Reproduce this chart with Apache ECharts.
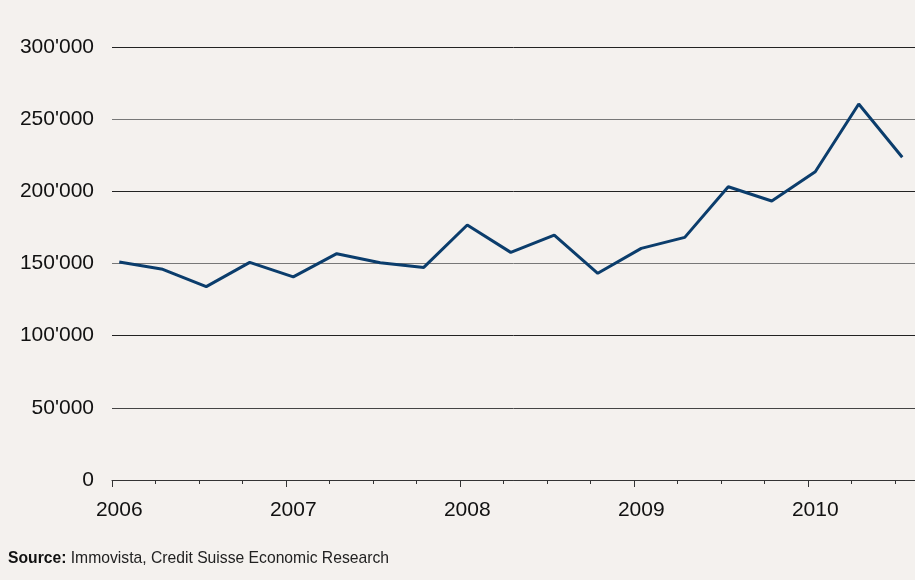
<!DOCTYPE html>
<html>
<head>
<meta charset="utf-8">
<script src="https://cdn.jsdelivr.net/npm/echarts@6/dist/echarts.min.js"></script>
<style>
html,body{margin:0;padding:0;background:#f4f1ee;}
#chart{width:915px;height:580px;}
</style>
</head>
<body>
<div id="chart"></div>
<script>
// Data
var quarters = ['2006 Q1','2006 Q2','2006 Q3','2006 Q4','2007 Q1','2007 Q2','2007 Q3','2007 Q4',
  '2008 Q1','2008 Q2','2008 Q3','2008 Q4','2009 Q1','2009 Q2','2009 Q3','2009 Q4',
  '2010 Q1','2010 Q2','2010 Q3'];
var values = [151000, 146000, 134000, 150800, 140700, 156800, 150500, 147300,
  176700, 157700, 169700, 143200, 160500, 168100, 203200, 193300,
  213600, 260500, 223600];
var yearTicks = [2006, 2007, 2008, 2009, 2010];
var yTicks = [0, 50000, 100000, 150000, 200000, 250000, 300000];
var sourceLabel = 'Source:';
var sourceText = 'Immovista, Credit Suisse Economic Research';

// quarter start as decimal year
function qStart(s) {
  var p = s.split(' Q');
  return +p[0] + (+p[1] - 1) / 4;
}
// plotted in the middle of the quarter's first month
var MID_FIRST_MONTH = 1 / 24;
var seriesData = quarters.map(function (q, i) { return [qStart(q) + MID_FIRST_MONTH, values[i]]; });
var quarterTicks = quarters.map(qStart);
var labelPositions = yearTicks.map(function (y) { return y + MID_FIRST_MONTH; });

function fmtThousands(v) {
  var s = String(Math.round(v));
  return s.replace(/\B(?=(\d{3})+(?!\d))/g, "'");
}

var chart = echarts.init(document.getElementById('chart'), null, {renderer: 'canvas'});
var font = '"Liberation Sans", Arial, Helvetica, sans-serif';
var xMin = 2006, xMax = 2006 + 803 / 174;
chart.setOption({
  backgroundColor: '#f4f1ee',
  animation: false,
  grid: {left: 112, top: 47, right: 0, bottom: 100, containLabel: false},
  xAxis: [{
    type: 'value', min: xMin, max: xMax,
    axisLine: {show: true, lineStyle: {color: '#333', width: 1}},
    axisTick: {show: true, length: 7, customValues: yearTicks, lineStyle: {color: '#333', width: 1}},
    splitLine: {show: false},
    axisLabel: {
      show: true, margin: 20, color: '#111', fontSize: 21, fontFamily: font,
      customValues: labelPositions,
      formatter: function (v) { return String(Math.floor(v + 1e-6)); }
    }
  }, {
    type: 'value', min: xMin, max: xMax, position: 'bottom',
    axisLine: {show: false},
    axisTick: {show: true, length: 4, customValues: quarterTicks, lineStyle: {color: '#333', width: 1}},
    splitLine: {show: false},
    axisLabel: {show: false}
  }],
  yAxis: {
    type: 'value', min: yTicks[0], max: yTicks[yTicks.length - 1], interval: yTicks[1] - yTicks[0],
    axisLine: {show: false},
    axisTick: {show: false},
    axisLabel: {
      margin: 18, color: '#111', fontSize: 21, fontFamily: font,
      formatter: function (v) { return fmtThousands(v); }
    },
    splitLine: {show: true, lineStyle: {color: ['#333', '#444', '#222', '#777', '#222', '#777', '#222'], width: 1}}
  },
  series: [{
    type: 'line', xAxisIndex: 0, data: seriesData,
    showSymbol: false, symbol: 'none',
    lineStyle: {color: '#0b3d6c', width: 3},
    clip: false
  }],
  graphic: [{
    type: 'text', left: 8, top: 551,
    style: {
      text: '{b|' + sourceLabel + '} ' + sourceText,
      font: '15.7px ' + font,
      fill: '#222',
      rich: {b: {fontWeight: 'bold', fontSize: 15.7, fontFamily: font, fill: '#111'}}
    }
  }]
});
</script>
</body>
</html>
